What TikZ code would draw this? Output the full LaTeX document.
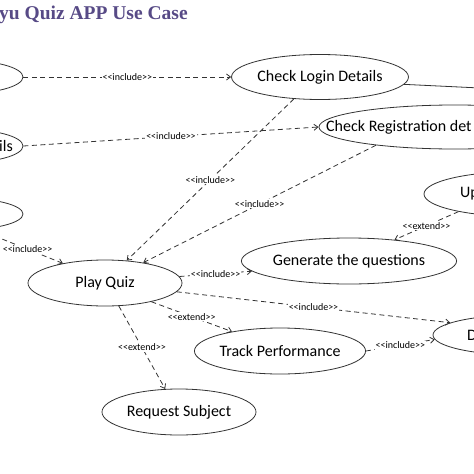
\documentclass[tikz,border=0pt]{standalone}
\usepackage{fontspec}
\setmainfont{Carlito}
\newfontfamily\titlefont{Liberation Serif}
\usetikzlibrary{arrows.meta,shapes.geometric}
\definecolor{titlepurple}{HTML}{574A86}
\definecolor{inkgray}{HTML}{333333}
\newcommand{\incl}{<\kern0pt<include>\kern0pt>}
\newcommand{\extd}{<\kern0pt<extend>\kern0pt>}

\begin{document}
\begin{tikzpicture}[x=1pt, y=-1pt, >={Straight Barb[length=4pt,width=6pt]},
  font=\fontsize{16}{19}\selectfont,
  uc/.style={draw=inkgray, ellipse, line width=0.8pt, inner sep=0pt, minimum width=154pt, minimum height=46pt},
  cut/.style={inner sep=0pt, anchor=west},
  incl/.style={->, draw=inkgray, line width=0.8pt, dash pattern=on 5pt off 3.5pt},
  solidline/.style={draw=inkgray, line width=0.8pt},
  lbl/.style={fill=white, inner sep=1pt, font=\fontsize{10}{12}\selectfont}]

  \path[use as bounding box, fill=white] (0,0) rectangle (474,474);
  \clip (0,0) rectangle (474,474);

  % ---- title ----
  \node[anchor=base west, inner sep=0pt, text=titlepurple, font=\titlefont\bfseries\fontsize{19.5}{22}\selectfont] (title) at (-1,19)
    {yu Quiz APP Use Case};

  % ---- left column (cut at the page edge) ----
  \node[uc, minimum width=126pt, minimum height=34pt] (uca) at (-40,77) {};
  \node[uc, minimum width=126pt, minimum height=34pt] (ucb) at (-40,146) {};
  \node[anchor=east, inner sep=0pt] (ucbtxt) at (13,146) {ils};
  \node[uc, minimum width=126pt, minimum height=32pt] (ucc) at (-40,214) {};

  % ---- use cases ----
  \node[uc] (play) at (105,283) {Play Quiz};
  \node[uc, minimum height=45pt] (login) at (320,77) {Check Login Details};
  \node[uc, minimum width=272pt, minimum height=44pt] (reg) at (455,127) {};
  \node[cut] (regtxt) at (326,127) {Check Registration det};
  \node[uc, minimum width=192pt, minimum height=45pt] (upl) at (520,194) {};
  \node[cut] (upltxt) at (460,194) {Up};
  \node[uc, minimum width=170pt] (gen) at (349,261) {Generate the questions};
  \node[uc, minimum width=174pt, minimum height=40pt] (disp) at (520,335) {};
  \node[cut] (disptxt) at (467,335) {D};
  \node[uc] (track) at (280,351) {Track Performance};
  \node[uc] (req) at (179,412) {Request Subject};

  % ---- actor link leaving the page ----
  \coordinate (admin) at (480,88);
  \draw[solidline] (login.-5) -- (admin);

  % ---- include / extend ----
  \draw[incl] (uca.east) -- node[lbl] {\incl} (login.west);
  \draw[incl] (ucb.east) -- node[lbl] {\incl} (reg.west);
  \draw[incl] (ucc.-40) -- node[lbl, pos=0.58] {\incl} (play.155);
  \draw[incl] (login.220) -- node[lbl] {\incl} (play.46);
  \draw[incl] (reg.193) -- node[lbl] {\incl} (play.28);
  \draw[incl] (play.5) -- node[lbl] {\incl} (gen.186);
  \draw[incl] (upl.196) -- node[lbl] {\extd} (gen.25);
  \draw[incl] (play.-7) -- node[lbl] {\incl} (disp.170);
  \draw[incl] (play.-22) -- node[lbl] {\extd} (track.158);
  \draw[incl] (play.-59) -- node[lbl] {\extd} (req.121);
  \draw[incl] (track.east) -- node[lbl] {\incl} (disp.183);

\end{tikzpicture}
\end{document}
